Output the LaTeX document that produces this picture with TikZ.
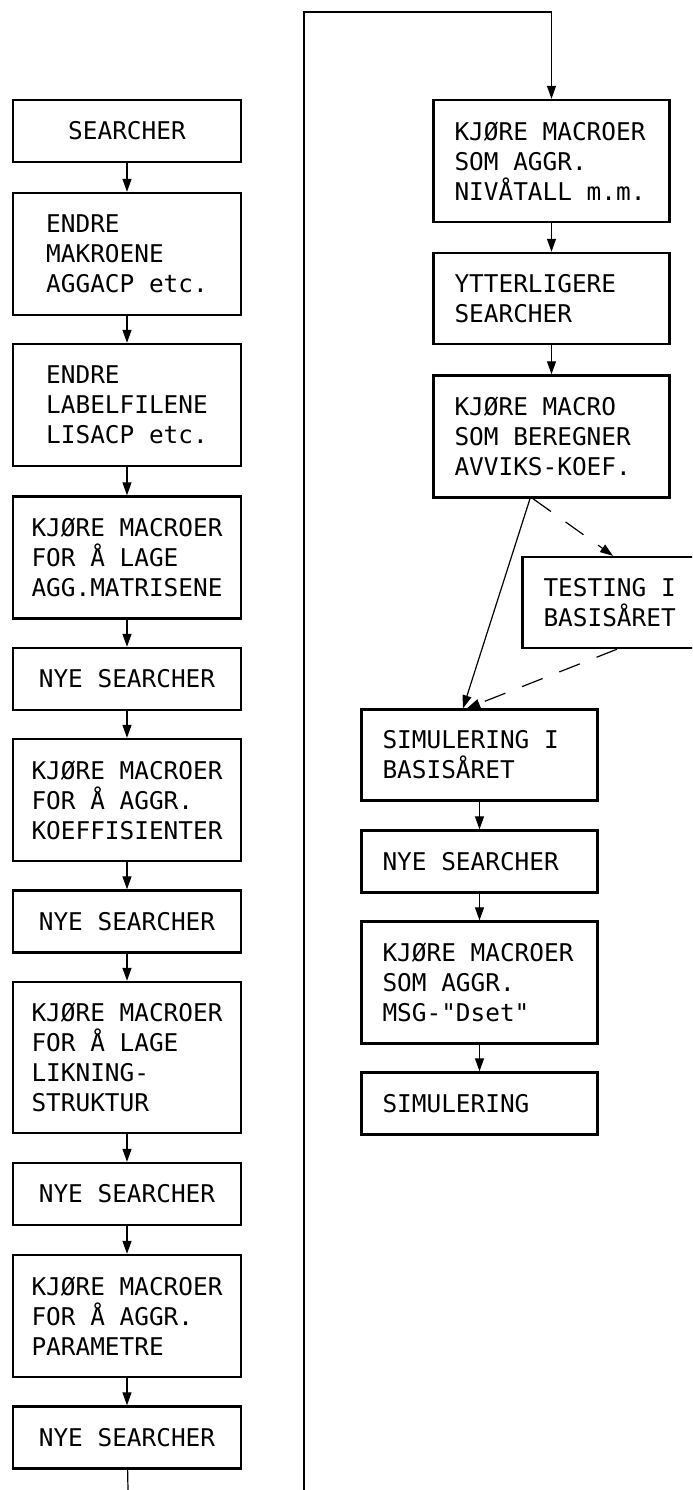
\documentclass[tikz,border=0pt]{standalone}
\usepackage{fontspec}
\setmonofont{DejaVu Sans Mono}
\usetikzlibrary{arrows.meta}

\begin{document}
\begin{tikzpicture}[x=0.5pt, y=-0.5pt,
    box/.style={draw, line width=1.2pt, font=\ttfamily\fontsize{12.2}{15}\selectfont, align=left},
    lbox/.style={box, minimum width=114pt},
    rbox/.style={box, text width=97pt, inner xsep=10.5pt, align=flush left},
    h1/.style={minimum height=31pt}, h2/.style={minimum height=45.5pt},
    h3/.style={minimum height=61pt}, h4/.style={minimum height=75.5pt},
    flow/.style={line width=0.6pt, -{Triangle[length=6.5pt, width=4.5pt]}},
    back/.style={flow, dash pattern=on 11pt off 9pt}]
    \path[use as bounding box, clip] (0,0) rectangle (692,1490);

    \node[lbox, h1] (srch) at (127, 131) {SEARCHER};
    \node[lbox, h3] (mak) at (127, 254) {ENDRE\\MAKROENE\\AGGACP etc.};
    \node[lbox, h3] (lab) at (127, 405) {ENDRE\\LABELFILENE\\LISACP etc.};
    \node[lbox, h3] (mat) at (127, 557.5) {KJØRE MACROER\\FOR Å LAGE\\AGG.MATRISENE};
    \node[lbox, h1] (nye1) at (127, 679) {NYE SEARCHER};
    \node[lbox, h3] (koef) at (127, 800) {KJØRE MACROER\\FOR Å AGGR.\\KOEFFISIENTER};
    \node[lbox, h1] (nye2) at (127, 921.5) {NYE SEARCHER};
    \node[lbox, h4] (likn) at (127, 1057.5) {KJØRE MACROER\\FOR Å LAGE\\LIKNING-\\STRUKTUR};
    \node[lbox, h1] (nye3) at (127, 1194) {NYE SEARCHER};
    \node[lbox, h3] (par) at (127, 1316) {KJØRE MACROER\\FOR Å AGGR.\\PARAMETRE};
    \node[lbox, h1] (nye4) at (127, 1437.5) {NYE SEARCHER};

    \node[rbox, h3] (niv) at (551.5, 161) {KJØRE MACROER\\SOM AGGR.\\NIVÅTALL m.m.};
    \node[rbox, h2] (ytt) at (551.5, 298.5) {YTTERLIGERE\\SEARCHER};
    \node[rbox, h3] (avv) at (551.5, 436.5) {KJØRE MACRO\\SOM BEREGNER\\AVVIKS-KOEF.};
    \node[rbox, h2] (test) at (640.5, 602.5) {TESTING I\\BASISÅRET};
    \node[rbox, h2] (simb) at (479.5, 755) {SIMULERING I\\BASISÅRET};
    \node[rbox, h1] (nye5) at (479.5, 861.5) {NYE SEARCHER};
    \node[rbox, h3] (dset) at (479.5, 982.5) {KJØRE MACROER\\SOM AGGR.\\MSG-"Dset"};
    \node[rbox, h1] (sim) at (479.5, 1103.5) {SIMULERING};

    \coordinate (tail) at (128, 1490);
    \coordinate (foot) at (304, 1490);
    \coordinate (head) at (304, 12);

    \draw[flow] (srch) -- (mak);
    \draw[flow] (mak) -- (lab);
    \draw[flow] (lab) -- (mat);
    \draw[flow] (mat) -- (nye1);
    \draw[flow] (nye1) -- (koef);
    \draw[flow] (koef) -- (nye2);
    \draw[flow] (nye2) -- (likn);
    \draw[flow] (likn) -- (nye3);
    \draw[flow] (nye3) -- (par);
    \draw[flow] (par) -- (nye4);
    \draw[line width=0.6pt] (nye4) -- (tail);

    \draw[flow] (foot) -- (head) -| (niv);
    \draw[flow] (niv) -- (ytt);
    \draw[flow] (ytt) -- (avv);
    \draw[flow] ([xshift=-10.75pt]avv.south) -- ([xshift=-8.25pt]simb.north);
    \draw[back] ([xshift=-9.25pt]avv.south) -- ([xshift=-13.75pt]test.north);
    \draw[back] ([xshift=-11.75pt]test.south) -- ([xshift=-6.25pt]simb.north);
    \draw[flow] (simb) -- (nye5);
    \draw[flow] (nye5) -- (dset);
    \draw[flow] (dset) -- (sim);
\end{tikzpicture}
\end{document}
